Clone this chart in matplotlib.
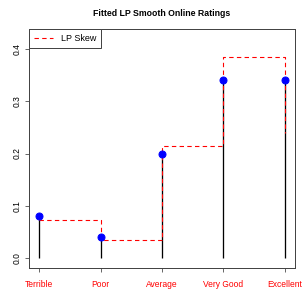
import numpy as np
import matplotlib.pyplot as plt

plt.rcParams['font.family'] = ['Liberation Sans', 'DejaVu Sans']

# DATA
categories = ['Terrible', 'Poor', 'Average', 'Very Good', 'Excellent']
observed = [0.08, 0.04, 0.20, 0.34, 0.34]
lp_skew = [0.073, 0.035, 0.215, 0.385, 0.24]
y_ticks = [0.0, 0.1, 0.2, 0.3, 0.4]

x = np.arange(1, len(categories) + 1)

fig = plt.figure(figsize=(4.25, 4.25), dpi=72)
ax = fig.add_axes([0.095, 0.124, 0.869, 0.781])

# stems
ax.vlines(x, 0, observed, color='black', lw=1.3, zorder=2)
# fitted step curve
ax.step(x, lp_skew, where='post', color='red', ls=(0, (4, 3)), lw=1.1,
        label='LP Skew', zorder=3)
ax.plot(x, observed, 'o', color='blue', ms=7, zorder=4)

ax.set_xlim(0.837, 5.163)
ax.set_ylim(-0.019, 0.438)
ax.set_xticks(x)
ax.set_xticklabels(categories, color='red', fontsize=8.5)
ax.set_yticks(y_ticks)
ax.set_yticklabels(['0.0', '0.1', '0.2', '0.3', '0.4'], rotation=90,
                   va='center', fontsize=8.5)
ax.tick_params(axis='x', length=4, pad=8, color='#444444')
ax.tick_params(axis='y', length=4, pad=3, color='#444444')
for s in ax.spines.values():
    s.set_color('#444444')
    s.set_linewidth(1)

ax.set_title('Fitted LP Smooth Online Ratings', fontsize=8.8, fontweight='bold', pad=13)
leg = ax.legend(loc='upper left', bbox_to_anchor=(0, 1), borderaxespad=0,
                fancybox=False, framealpha=1, edgecolor='#444444', fontsize=9,
                handlelength=2.1, borderpad=0.55, handletextpad=0.9)
leg.get_frame().set_linewidth(1)

fig.savefig('out.png', dpi=72)
